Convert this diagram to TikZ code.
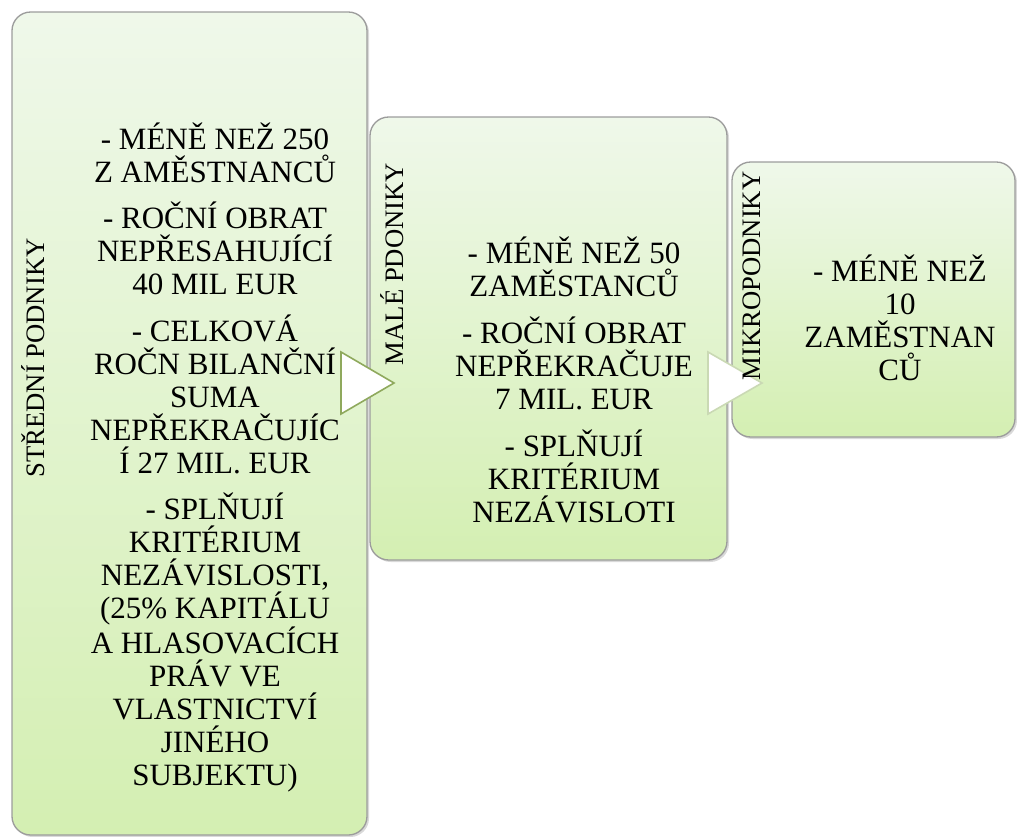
\documentclass[tikz,border=0pt]{standalone}
\usepackage{fontspec}
\setmainfont{Liberation Serif}
\usepackage{xcolor}
\usepackage{tikz}
\usetikzlibrary{shadows}

\definecolor{boxtop}{HTML}{EFF8EA}
\definecolor{boxbottom}{HTML}{D4EFB2}
\definecolor{boxline}{HTML}{9C9C9C}
\definecolor{pointerline}{HTML}{8FA95D}
\definecolor{pointerpale}{HTML}{CAD9B4}

\begin{document}
\begin{tikzpicture}[x=0.75pt,y=-0.75pt,
	sizebox/.style={draw=boxline, line width=1pt, rounded corners=14pt, top color=boxtop, bottom color=boxbottom, drop shadow={opacity=0.3,shadow xshift=1.5pt,shadow yshift=-1.5pt}, inner sep=0pt},
	sizename/.style={rotate=90, font=\fontsize{20}{22}\selectfont, inner sep=0pt},
	sizetext/.style={align=center, font=\fontsize{23.25}{24.75}\selectfont, inner sep=0pt, anchor=base},
	pointer/.style={draw=pointerline, line width=1.2pt, fill=white, line join=miter}]

\useasboundingbox (0,0) rectangle (1017,836);

\node[sizebox, minimum width=266.25pt, minimum height=617.25pt] (stredni) at (189.5,423.5) {};
\node[sizebox, minimum width=267.75pt, minimum height=332.25pt] (male) at (548.5,338.5) {};
\node[sizebox, minimum width=212.25pt, minimum height=206.25pt] (mikro) at (873.5,299.5) {};

\node[sizename] (strednilabel) at (33,358) {STŘEDNÍ PODNIKY};
\node[sizetext] (strednitext) at (215,785) {- MÉNĚ NEŽ 250\\Z AMĚSTNANCŮ\\[10pt]- ROČNÍ OBRAT\\NEPŘESAHUJÍCÍ\\40 MIL EUR\\[10pt]- CELKOVÁ\\ROČN BILANČNÍ\\SUMA\\NEPŘEKRAČUJÍC\\Í 27 MIL. EUR\\[10pt]- SPLŇUJÍ\\KRITÉRIUM\\NEZÁVISLOSTI,\\(25\% KAPITÁLU\\A HLASOVACÍCH\\PRÁV VE\\VLASTNICTVÍ\\JINÉHO\\SUBJEKTU)};

\coordinate (p1) at (341,383);
\coordinate (p2) at (708,383);
\draw[pointer] (p1) ++(0,-31) -- ++(53,31) -- ++(-53,31) -- cycle;
\draw[pointer, draw=pointerpale] (p2) ++(0,-31) -- ++(54,31) -- ++(-54,31) -- cycle;

\node[sizename] (malelabel) at (392,264) {MALÉ PDONIKY};
\node[sizetext] (maletext) at (574,522) {- MÉNĚ NEŽ 50\\ZAMĚSTANCŮ\\[10.5pt]- ROČNÍ OBRAT\\NEPŘEKRAČUJE\\7 MIL. EUR\\[10.5pt]- SPLŇUJÍ\\KRITÉRIUM\\NEZÁVISLOTI};

\node[sizename] (mikrolabel) at (752,276) {MIKROPODNIKY};
\node[sizetext] (mikrotext) at (900,380) {- MÉNĚ NEŽ\\10\\ZAMĚSTNAN\\CŮ};

\end{tikzpicture}
\end{document}
